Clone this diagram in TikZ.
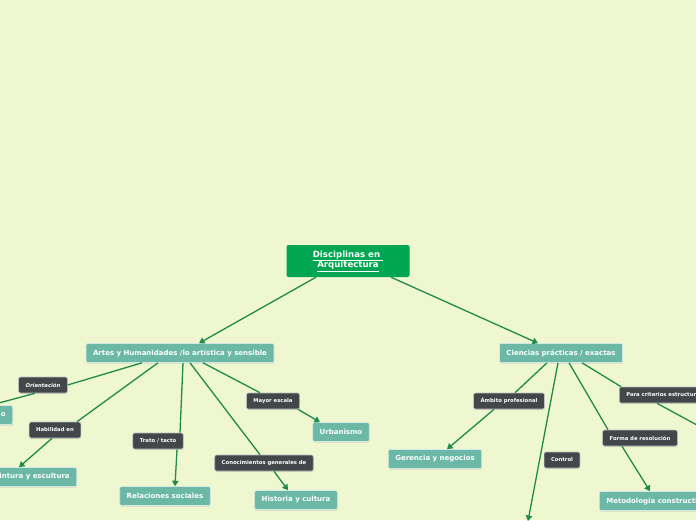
\documentclass[tikz,border=0pt]{standalone}
\usepackage{fontspec}
\newfontfamily\mapfont{DejaVu Sans}
\usetikzlibrary{arrows.meta,shadows}

\definecolor{mapbg}{HTML}{EEF7D0}
\definecolor{rootfill}{HTML}{00A651}
\definecolor{topicfill}{HTML}{6BB8A6}
\definecolor{relfill}{HTML}{43474A}
\definecolor{wirecol}{HTML}{1F8A4C}

\begin{document}
\begin{tikzpicture}[x=1pt,y=-1pt,font=\mapfont\bfseries,
   rootbox/.style={fill=rootfill,text=white,rounded corners=2pt,align=center,
      minimum width=123pt,minimum height=32pt,inner sep=2pt,
      font=\mapfont\bfseries\fontsize{8.6}{10.4}\selectfont},
   topic/.style={fill=topicfill,draw=white!70!topicfill,line width=0.6pt,text=white,
      rounded corners=2pt,minimum height=19pt,inner xsep=7pt,inner ysep=0pt,
      drop shadow={opacity=0.25,shadow xshift=0.4pt,shadow yshift=-1pt},
      font=\mapfont\bfseries\fontsize{7}{8}\selectfont},
   rel/.style={fill=relfill,draw=white!65!relfill,line width=0.6pt,text=white,
      rounded corners=2pt,minimum height=16pt,inner xsep=7pt,inner ysep=0pt,
      drop shadow={opacity=0.2,shadow xshift=0.4pt,shadow yshift=-1pt},
      font=\mapfont\bfseries\fontsize{5.3}{6}\selectfont},
   wire/.style={draw=wirecol,line width=1.3pt},
   arrowline/.style={wire,-{Triangle[width=6.5pt,length=5.5pt]}}]
  \useasboundingbox (0,0) rectangle (696,520);
  \clip (0,0) rectangle (696,520);
  \fill[mapbg] (0,0) rectangle (696,520);

  % ---- central topic ----
  \node[rootbox] (root) at (348,261) {\underline{Disciplinas en }\\\underline{Arquitectura}};

  % ---- main branches ----
  \node[topic] (artes) at (180,353) {Artes y Humanidades /lo artística y sensible};
  \node[topic] (ciencias) at (561,353) {Ciencias prácticas / exactas};
  \draw[arrowline] ([xshift=-32pt]root.south) -- ([xshift=19pt]artes.north);
  \draw[arrowline] ([xshift=43pt]root.south) -- ([xshift=-23pt]ciencias.north);

  % ---- artes y humanidades ----
  \node[rel,font=\mapfont\bfseries\itshape\fontsize{5.3}{6}\selectfont] (orient) at (43,385) {Orientación};
  \node[topic,anchor=east,text width=30pt,align=right] (onode) at (13,415) {o};
  \node[rel] (habil) at (55,430) {Habilidad en};
  \node[topic,anchor=east] (pintura) at (77,477) {Pintura y escultura};
  \node[rel] (trato) at (158,441) {Trato / tacto};
  \node[topic] (social) at (165,496) {Relaciones sociales};
  \node[rel] (conoc) at (264,463) {Conocimientos generales de};
  \node[topic] (historia) at (296,500) {Historia y cultura};
  \node[rel] (mayor) at (273,401) {Mayor escala};
  \node[topic] (urban) at (341,432) {Urbanismo};

  \draw[wire] ([xshift=-38pt]artes.south) -- (orient.east);
  \draw[arrowline] ([xshift=-8pt]orient.south) -- (onode.north);
  \draw[wire] ([xshift=-22pt]artes.south) -- ([xshift=22pt]habil.north);
  \draw[arrowline] ([xshift=-3pt]habil.south) -- ([xshift=-13pt]pintura.north);
  \draw[wire] ([xshift=3pt]artes.south) -- ([xshift=22pt]trato.north);
  \draw[arrowline] ([xshift=19pt]trato.south) -- ([xshift=10pt]social.north);
  \draw[wire] ([xshift=10pt]artes.south) -- ([xshift=-4pt]conoc.north);
  \draw[arrowline] ([xshift=10pt]conoc.south) -- ([xshift=-8pt]historia.north);
  \draw[wire] ([xshift=23pt]artes.south) -- ([xshift=-13pt]mayor.north);
  \draw[arrowline] ([xshift=25pt]mayor.south) -- ([xshift=-21pt]urban.north);

  % ---- ciencias practicas ----
  \node[rel] (ambito) at (509,401) {Ámbito profesional};
  \node[topic] (gerencia) at (435,459) {Gerencia y negocios};
  \node[rel] (control) at (562,460) {Control};
  \coordinate (below) at (528,521);
  \node[rel] (forma) at (640,438) {Forma de resolución};
  \node[topic,anchor=west] (metod) at (599,501) {Metodología constructiva};
  \node[rel,anchor=west] (para) at (619,395) {Para criterios estructurales};
  \coordinate (paraend) at (730,443);

  \draw[wire] ([xshift=-14pt]ciencias.south) -- ([xshift=6pt]ambito.north);
  \draw[arrowline] ([xshift=-15pt]ambito.south) -- ([xshift=12pt]gerencia.north);
  \draw[arrowline] ([xshift=-3pt]ciencias.south) -- (below);
  \draw[wire] ([xshift=8pt]ciencias.south) -- ([xshift=-32pt]forma.north);
  \draw[arrowline] ([xshift=-18pt]forma.south) -- ([xshift=51pt]metod.north west);
  \draw[wire] ([xshift=21pt]ciencias.south) -- ([xshift=2pt]para.north west);
  \draw[wire] ([xshift=38pt]para.south west) -- (paraend);
\end{tikzpicture}
\end{document}
